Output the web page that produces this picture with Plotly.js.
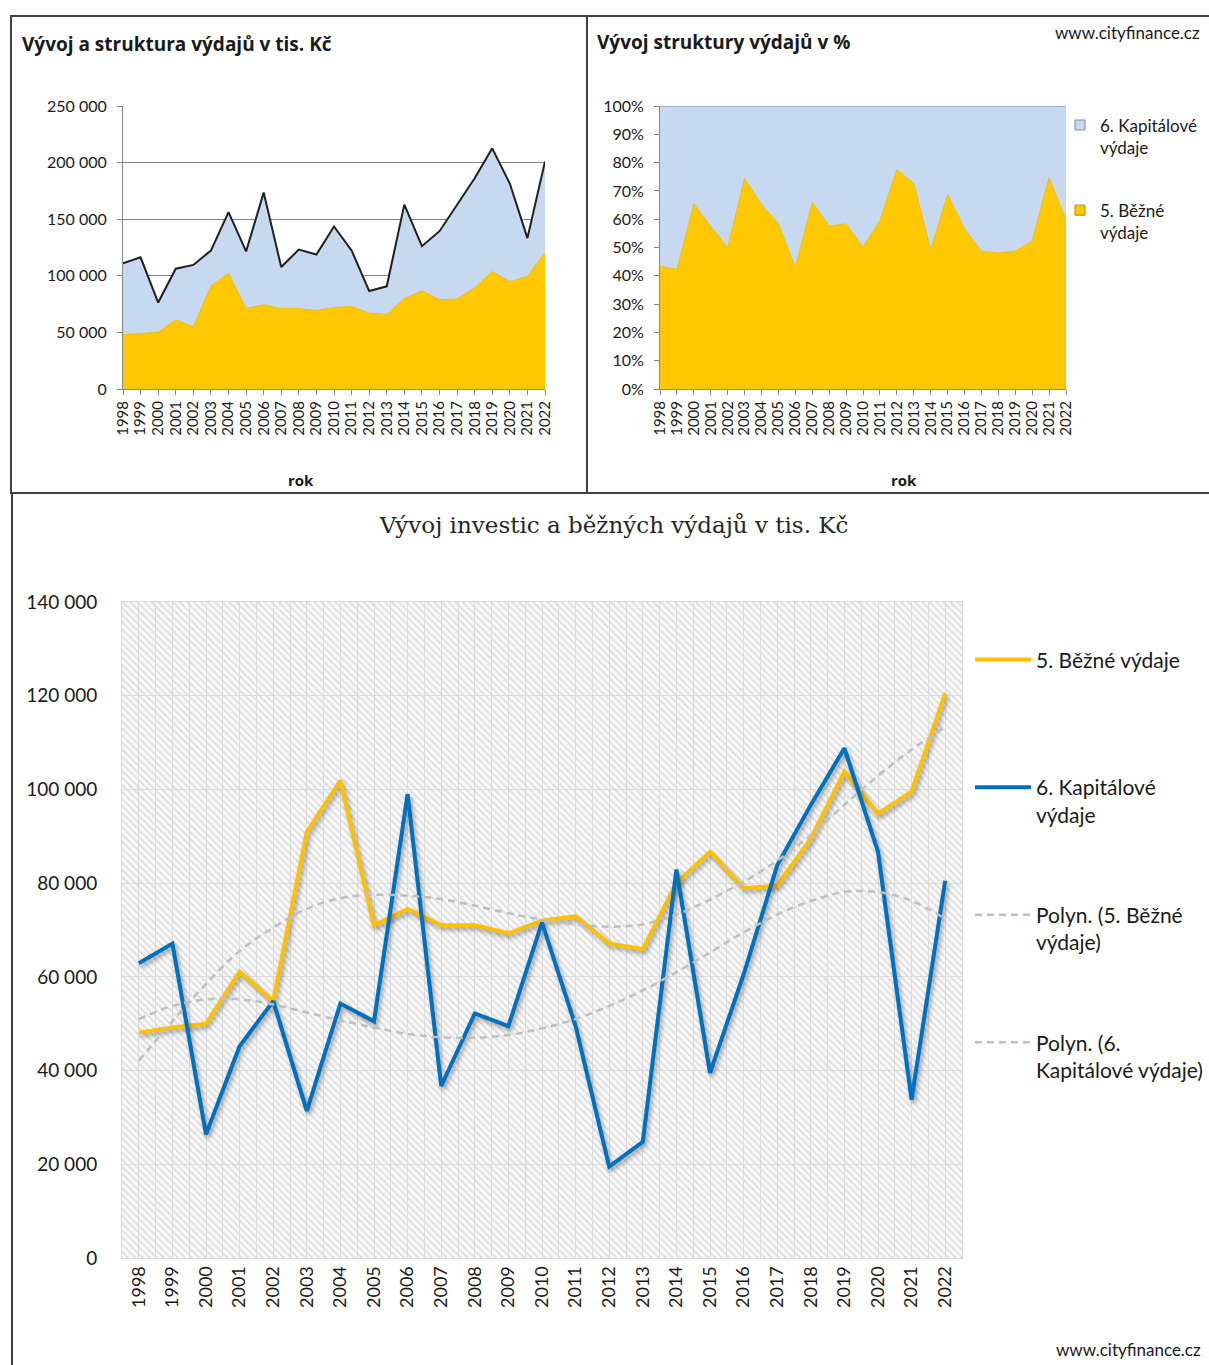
<!DOCTYPE html>
<html>
<head>
<meta charset="utf-8">
<script src="https://cdn.plot.ly/plotly-3.0.1.min.js"></script>
<style>
  body { margin: 0; background: #fff; width: 1209px; height: 1365px; position: relative; overflow: hidden; }
  .plot { position: absolute; }
  .rule { position: absolute; background: #404040; }
  #bottom .scatterlayer .trace:nth-child(-n+2) .js-line { filter: drop-shadow(2px 3px 2px rgba(0,0,0,0.35)); }
</style>
</head>
<body>
<div id="absolute" class="plot" style="left:11px; top:16px; width:576px; height:477px;"></div>
<div id="percent" class="plot" style="left:588px; top:16px; width:621px; height:477px;"></div>
<div id="bottom" class="plot" style="left:12px; top:494px; width:1197px; height:871px;"></div>

<div class="rule" style="left:10px; top:15px; width:1199px; height:2px;"></div>
<div class="rule" style="left:10px; top:15px; width:2px; height:479px;"></div>
<div class="rule" style="left:586px; top:15px; width:2px; height:479px;"></div>
<div class="rule" style="left:10px; top:492px; width:1199px; height:2px;"></div>
<div class="rule" style="left:11px; top:492px; width:2px; height:873px;"></div>

<script>
// roky
var years = [1998, 1999, 2000, 2001, 2002, 2003, 2004, 2005, 2006, 2007, 2008, 2009,
             2010, 2011, 2012, 2013, 2014, 2015, 2016, 2017, 2018, 2019, 2020, 2021, 2022];
var yearLabels = years.map(function (y) { return '' + y; });

// 5. Běžné výdaje (tis. Kč)
var bezne = [48100, 49200, 50000, 61100, 54800, 90900, 101900, 71000, 74500, 71000, 71000, 69300,
             72000, 72900, 67100, 65900, 80000, 86700, 78900, 79500, 89500, 103800, 94800, 99500, 120500];
// 6. Kapitálové výdaje (tis. Kč)
var kapitalove = [62900, 67100, 26400, 45200, 54800, 31400, 54300, 50500, 99000, 36700, 52200, 49500,
                  71600, 49500, 19500, 24800, 82900, 39500, 60500, 83800, 96700, 108800, 86700, 33800, 80500];

// polynomické trendy
var trendBezne = [42100, 50500, 58500, 65500, 70500, 74500, 76800, 77500, 77300, 76600, 75200, 73600,
                  72200, 71200, 70700, 71200, 73300, 76500, 80300, 84800, 90300, 96700, 102900, 108500, 113300];
var trendKapitalove = [51000, 53800, 55200, 55200, 54100, 52400, 50700, 49200, 47800, 47100, 47000, 47600,
                       49000, 51000, 53800, 57100, 61000, 65200, 69500, 73300, 76200, 78100, 78100, 76200, 72400];

var yellow = '#FFC800';
var lightBlue = '#C6D9F1';
var lineYellow = '#FFC000';
var lineBlue = '#0070C0';
var trendGrey = '#BFBFBF';
var font = 'Lato, "Open Sans", sans-serif';
var boldFont = '"Open Sans", Lato, sans-serif';
var txt = '#1a1a1a';

var config = { staticPlot: true, responsive: false };

// ---- Vývoj a struktura výdajů v tis. Kč ----
var absTraces = [
    {
        x: yearLabels, y: bezne, type: 'scatter', mode: 'lines',
        stackgroup: 'a', fillcolor: yellow, line: { color: '#F2BE00', width: 1 },
        name: '5. Běžné výdaje', showlegend: false
    },
    {
        x: yearLabels, y: kapitalove, type: 'scatter', mode: 'lines',
        stackgroup: 'a', fillcolor: lightBlue, line: { color: '#1f1f1f', width: 2 },
        name: '6. Kapitálové výdaje', showlegend: false
    }
];

var absLayout = {
    width: 576, height: 477,
    margin: { l: 112, r: 42, t: 90, b: 104, autoexpand: false },
    paper_bgcolor: 'rgba(0,0,0,0)', plot_bgcolor: 'rgba(0,0,0,0)',
    separators: ', ',
    font: { family: font, color: txt, size: 15 },
    title: {
        text: '<b>Vývoj a struktura výdajů v tis. Kč</b>',
        font: { family: boldFont, size: 19, color: txt },
        xref: 'container', yref: 'container', x: 11 / 576, xanchor: 'left', y: 1 - 28 / 477, yanchor: 'middle'
    },
    xaxis: {
        type: 'category', range: [0, 24], tickangle: -90, tickmode: 'linear', dtick: 1,
        showgrid: false, showline: true, linecolor: '#868686', linewidth: 1,
        ticks: 'outside', ticklen: 5, tickcolor: '#868686',
        tickfont: { size: 15, color: txt }
    },
    yaxis: {
        range: [0, 250000], dtick: 50000, tickformat: ',d',
        showgrid: true, gridcolor: '#868686', gridwidth: 1,
        showline: true, linecolor: '#868686', linewidth: 1,
        ticks: 'outside', ticklen: 5, tickcolor: '#868686', ticklabelstandoff: 7,
        tickfont: { size: 16, color: txt }, zeroline: false
    },
    annotations: [{
        text: '<b>rok</b>', xref: 'paper', yref: 'paper', x: (301 - 123) / 422, y: -(480 - 389) / 283,
        xanchor: 'center', yanchor: 'middle', showarrow: false,
        font: { family: boldFont, size: 15, color: txt }
    }]
};

Plotly.newPlot('absolute', absTraces, absLayout, config);

// ---- Vývoj struktury výdajů v % ----
var pctTraces = [
    {
        x: yearLabels, y: bezne, type: 'scatter', mode: 'lines',
        stackgroup: 'p', groupnorm: 'percent', fillcolor: yellow, line: { color: '#F2BE00', width: 1 },
        name: '5. Běžné<br>výdaje', showlegend: false
    },
    {
        x: yearLabels, y: kapitalove, type: 'scatter', mode: 'lines',
        stackgroup: 'p', fillcolor: lightBlue, line: { color: '#9AA8BA', width: 1.5 },
        name: '6. Kapitálové<br>výdaje', showlegend: false
    },
    // legend entries (square swatches)
    {
        x: [null], y: [null], type: 'scatter', mode: 'markers',
        marker: { symbol: 'square', size: 10, color: lightBlue, line: { color: '#7f8fa6', width: 1 } },
        name: '6. Kapitálové<br>výdaje', legendgroup: 'k'
    },
    {
        x: [null], y: [null], type: 'scatter', mode: 'markers',
        marker: { symbol: 'square', size: 10, color: yellow, line: { color: '#b38b00', width: 1 } },
        name: '5. Běžné<br>výdaje', legendgroup: 'b'
    }
];

var pctLayout = {
    width: 621, height: 477,
    margin: { l: 72, r: 143, t: 90, b: 104, autoexpand: false },
    paper_bgcolor: 'rgba(0,0,0,0)', plot_bgcolor: 'rgba(0,0,0,0)',
    font: { family: font, color: txt, size: 15 },
    title: {
        text: '<b>Vývoj struktury výdajů v %</b>',
        font: { family: boldFont, size: 19, color: txt },
        xref: 'container', yref: 'container', x: 9 / 621, xanchor: 'left', y: 1 - 26 / 477, yanchor: 'middle'
    },
    xaxis: {
        type: 'category', range: [0, 24], tickangle: -90, tickmode: 'linear', dtick: 1,
        showgrid: false, showline: true, linecolor: '#868686', linewidth: 1,
        ticks: 'outside', ticklen: 5, tickcolor: '#868686',
        tickfont: { size: 15, color: txt }
    },
    yaxis: {
        range: [0, 100], dtick: 10, ticksuffix: '%',
        showgrid: false, showline: true, linecolor: '#868686', linewidth: 1,
        ticks: 'outside', ticklen: 5, tickcolor: '#868686', ticklabelstandoff: 7,
        tickfont: { size: 16, color: txt }, zeroline: false
    },
    showlegend: true,
    legend: {
        x: (1060 - 660) / 406, xanchor: 'left', y: 0.995, yanchor: 'top',
        traceorder: 'grouped', tracegroupgap: 38, valign: 'top',
        font: { size: 17, color: txt }, itemwidth: 30
    },
    annotations: [
        {
            text: 'www.cityfinance.cz', xref: 'paper', yref: 'paper',
            x: 1 + 136 / 406, xanchor: 'right', y: 1 + 73 / 283, yanchor: 'middle',
            showarrow: false, font: { size: 17, color: txt }
        },
        {
            text: '<b>rok</b>', xref: 'paper', yref: 'paper', x: (904 - 660) / 406, y: -(480 - 389) / 283,
            xanchor: 'center', yanchor: 'middle', showarrow: false,
            font: { family: boldFont, size: 15, color: txt }
        }
    ]
};

Plotly.newPlot('percent', pctTraces, pctLayout, config);

// ---- Vývoj investic a běžných výdajů v tis. Kč ----
var hatch = "<svg xmlns='http://www.w3.org/2000/svg' width='840' height='656'>" +
    "<defs><pattern id='h' width='5' height='5' patternUnits='userSpaceOnUse' patternTransform='rotate(-45)'>" +
    "<rect width='5' height='5' fill='#f8f8f8'/><rect width='1.5' height='5' fill='#d9d9d9'/></pattern></defs>" +
    "<rect width='840' height='656' fill='url(#h)'/></svg>";

var lineTraces = [
    {
        x: years, y: bezne, type: 'scatter', mode: 'lines',
        line: { color: lineYellow, width: 4 }, name: '5. Běžné výdaje<br>\u00a0', legendgroup: '1'
    },
    {
        x: years, y: kapitalove, type: 'scatter', mode: 'lines',
        line: { color: lineBlue, width: 4 }, name: '6. Kapitálové<br>výdaje', legendgroup: '2'
    },
    {
        x: years, y: trendBezne, type: 'scatter', mode: 'lines',
        line: { color: trendGrey, width: 2.5, dash: '7px,5px', shape: 'spline' },
        name: 'Polyn. (5. Běžné<br>výdaje)', legendgroup: '3'
    },
    {
        x: years, y: trendKapitalove, type: 'scatter', mode: 'lines',
        line: { color: trendGrey, width: 2.5, dash: '7px,5px', shape: 'spline' },
        name: 'Polyn. (6.<br>Kapitálové výdaje)', legendgroup: '4'
    }
];

var lineLayout = {
    width: 1197, height: 871,
    margin: { l: 110, r: 247, t: 108, b: 107, autoexpand: false },
    paper_bgcolor: 'rgba(0,0,0,0)', plot_bgcolor: 'rgba(0,0,0,0)',
    separators: ', ',
    font: { family: font, color: txt, size: 18 },
    title: {
        text: 'Vývoj investic a běžných výdajů v tis. Kč',
        font: { family: '"DejaVu Serif", serif', size: 23, color: '#262626' },
        xref: 'container', yref: 'container', x: 602 / 1197, xanchor: 'center', y: 1 - 31 / 871, yanchor: 'middle'
    },
    xaxis: {
        range: [1997.5, 2022.5], tickmode: 'linear', tick0: 1998, dtick: 1, tickangle: -90,
        showgrid: true, gridcolor: '#dcdcdc', gridwidth: 1,
        minor: { tickmode: 'linear', tick0: 1997.5, dtick: 1, showgrid: true, gridcolor: '#dcdcdc', gridwidth: 1 },
        showline: true, linecolor: '#d9d9d9', linewidth: 1, mirror: true,
        ticks: '', tickfont: { size: 18, color: txt }, zeroline: false
    },
    yaxis: {
        range: [0, 140000], dtick: 20000, tickformat: ',d',
        showgrid: true, gridcolor: '#dcdcdc', gridwidth: 1,
        showline: true, linecolor: '#d9d9d9', linewidth: 1, mirror: true,
        ticks: 'outside', ticklen: 20, tickcolor: 'rgba(0,0,0,0)',
        tickfont: { size: 19, color: txt }, zeroline: false
    },
    images: [{
        source: 'data:image/svg+xml;charset=utf-8,' + encodeURIComponent(hatch),
        xref: 'paper', yref: 'paper', x: 0, y: 1, sizex: 1, sizey: 1,
        xanchor: 'left', yanchor: 'top', sizing: 'stretch', layer: 'below'
    }],
    showlegend: true,
    legend: {
        x: 1.0095, xanchor: 'left', y: 0.943, yanchor: 'top',
        traceorder: 'grouped', tracegroupgap: 70, valign: 'top',
        font: { size: 21, color: txt }, itemwidth: 56
    },
    annotations: [{
        text: 'www.cityfinance.cz', xref: 'paper', yref: 'paper',
        x: 1 + 241 / 840, xanchor: 'right', y: -92 / 656, yanchor: 'middle',
        showarrow: false, font: { size: 17, color: txt }
    }]
};

Plotly.newPlot('bottom', lineTraces, lineLayout, config);
</script>
</body>
</html>
